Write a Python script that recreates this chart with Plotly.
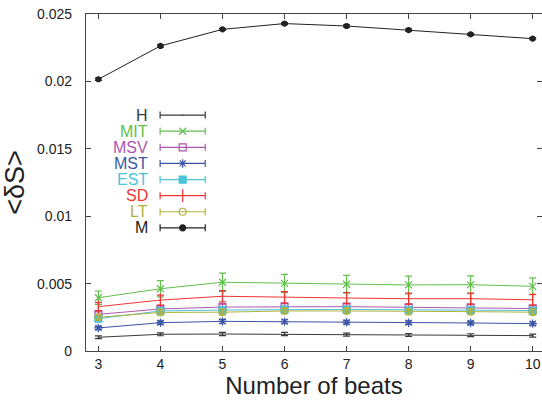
import plotly.graph_objects as go

# Number of beats (x axis)
beats = [3, 4, 5, 6, 7, 8, 9, 10]

# Mean entropy change <dS> for each method, with error bar half-widths
series_names = ["H", "MIT", "MSV", "MST", "EST", "SD", "LT", "M"]

h_vals = [0.00102, 0.00124, 0.00126, 0.00126, 0.00121, 0.00119, 0.00117, 0.00114]
h_err = [0.00010, 0.00011, 0.00012, 0.00012, 0.00011, 0.00011, 0.00011, 0.00011]

mit_vals = [0.00395, 0.00462, 0.00510, 0.00502, 0.00495, 0.00490, 0.00492, 0.00480]
mit_err = [0.00050, 0.00060, 0.00068, 0.00067, 0.00066, 0.00066, 0.00066, 0.00062]

msv_vals = [0.00272, 0.00312, 0.00326, 0.00329, 0.00329, 0.00324, 0.00322, 0.00315]
msv_err = [0.00018, 0.00020, 0.00022, 0.00022, 0.00022, 0.00022, 0.00022, 0.00021]

mst_vals = [0.00171, 0.00210, 0.00220, 0.00218, 0.00213, 0.00210, 0.00208, 0.00203]
mst_err = [0.00012, 0.00013, 0.00014, 0.00014, 0.00014, 0.00013, 0.00013, 0.00013]

est_vals = [0.00240, 0.00297, 0.00304, 0.00309, 0.00309, 0.00306, 0.00304, 0.00300]
est_err = [0.00015, 0.00017, 0.00018, 0.00018, 0.00018, 0.00018, 0.00018, 0.00018]

sd_vals = [0.00329, 0.00378, 0.00406, 0.00398, 0.00393, 0.00388, 0.00388, 0.00380]
sd_err = [0.00030, 0.00037, 0.00042, 0.00042, 0.00041, 0.00041, 0.00041, 0.00040]

lt_vals = [0.00250, 0.00286, 0.00288, 0.00297, 0.00297, 0.00292, 0.00292, 0.00288]
lt_err = [0.00015, 0.00017, 0.00018, 0.00018, 0.00018, 0.00018, 0.00018, 0.00018]

m_vals = [0.02016, 0.02263, 0.02386, 0.02429, 0.02411, 0.02381, 0.02349, 0.02317]
m_err = [0.00008, 0.00008, 0.00008, 0.00008, 0.00008, 0.00008, 0.00008, 0.00008]

x_ticks = [3, 4, 5, 6, 7, 8, 9, 10]
y_ticks = [0, 0.005, 0.01, 0.015, 0.02, 0.025]
y_tick_labels = ["0", "0.005", "0.01", "0.015", "0.02", "0.025"]

styles = {
    "H":   dict(color="#3a3a3a", symbol="line-ew", size=1, key_size=1),
    "MIT": dict(color="#62bf4c", symbol="x-thin", size=7, key_size=7),
    "MSV": dict(color="#ac57ac", symbol="square-open", size=7, key_size=7),
    "MST": dict(color="#3b56a6", symbol="asterisk", size=7, key_size=7),
    "EST": dict(color="#4cc3db", symbol="square", size=7, key_size=7),
    "SD":  dict(color="#ef3434", symbol="line-ns", size=9, key_size=9),
    "LT":  dict(color="#b3b23c", symbol="circle-open", size=7, key_size=7),
    "M":   dict(color="#222222", symbol="circle", size=5, key_size=6),
}

data = {
    "H": (h_vals, h_err),
    "MIT": (mit_vals, mit_err),
    "MSV": (msv_vals, msv_err),
    "MST": (mst_vals, mst_err),
    "EST": (est_vals, est_err),
    "SD": (sd_vals, sd_err),
    "LT": (lt_vals, lt_err),
    "M": (m_vals, m_err),
}

FONT = "Liberation Sans, Arial, Helvetica, sans-serif"
LW = 1.0

fig = go.Figure()

for name in series_names:
    vals, errs = data[name]
    st = styles[name]
    fig.add_trace(go.Scatter(
        x=beats, y=vals, mode="lines+markers", name=name,
        line=dict(color=st["color"], width=LW),
        marker=dict(symbol=st["symbol"], size=st["size"], color=st["color"],
                    line=dict(color=st["color"], width=1.2)),
        error_y=dict(type="data", array=errs, color=st["color"],
                     thickness=1.2, width=3.5),
        showlegend=False,
    ))

# Key: one sample per series on an overlay axis spanning the plot area
key_top = 0.700
key_step = 0.0478
key_cx = 0.212
key_half = 0.0495
for i, name in enumerate(series_names):
    st = styles[name]
    ky = key_top - i * key_step
    fig.add_trace(go.Scatter(
        x=[key_cx], y=[ky], mode="markers", xaxis="x2", yaxis="y2",
        marker=dict(symbol=st["symbol"], size=st["key_size"], color=st["color"],
                    line=dict(color=st["color"], width=1.2)),
        error_x=dict(type="constant", value=key_half, color=st["color"],
                     thickness=1.2, width=3.5),
        showlegend=False, hoverinfo="skip",
    ))
    fig.add_annotation(
        x=0.141, y=ky, xref="x2", yref="y2", text=name, showarrow=False,
        xanchor="right", yanchor="middle",
        font=dict(family=FONT, size=16, color=st["color"]),
    )

fig.update_layout(
    width=542, height=402,
    margin=dict(l=86, r=0, t=14, b=51),
    paper_bgcolor="white", plot_bgcolor="white",
    font=dict(family=FONT, size=14, color="#222222"),
    xaxis=dict(
        range=[2.8, 10.15], tickvals=x_ticks, ticktext=[str(v) for v in x_ticks],
        ticks="inside", ticklen=5, tickcolor="#444", tickwidth=1,
        showline=True, linecolor="#444", linewidth=1.2, mirror="ticks",
        showgrid=False, zeroline=False,
        tickfont=dict(family=FONT, size=14, color="#222"),
        title=dict(text="Number of beats", font=dict(family=FONT, size=24, color="#222"),
                   standoff=2),
    ),
    yaxis=dict(
        range=[0, 0.025], tickvals=y_ticks, ticktext=y_tick_labels,
        ticks="inside", ticklen=5, tickcolor="#444", tickwidth=1,
        showline=True, linecolor="#444", linewidth=1.2, mirror="ticks",
        showgrid=False, zeroline=False, ticklabelstandoff=10,
        tickfont=dict(family=FONT, size=14, color="#222"),
        title=dict(text="<δS>", font=dict(family=FONT, size=27, color="#222"),
                   standoff=6),
    ),
    xaxis2=dict(overlaying="x", range=[0, 1], visible=False, fixedrange=True),
    yaxis2=dict(overlaying="y", range=[0, 1], visible=False, fixedrange=True),
)

fig.write_html("out.html")
